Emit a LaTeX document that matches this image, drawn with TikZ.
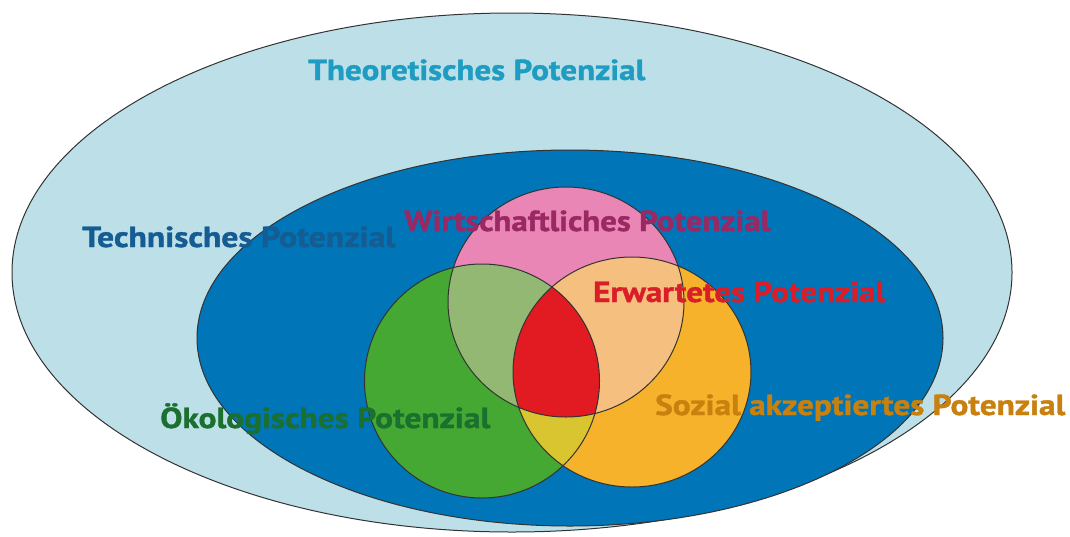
\documentclass[tikz,border=0pt]{standalone}
\usepackage{fontspec}
\usepackage{graphicx}
\setmainfont{PT Sans}[BoldFeatures={FakeBold=1.2}]
\definecolor{lightblue}{HTML}{BDE0E8}
\definecolor{techblue}{HTML}{0075B8}
\definecolor{pinkc}{HTML}{E986B5}
\definecolor{greenc}{HTML}{45A832}
\definecolor{orangec}{HTML}{F6B22B}
\definecolor{lgreen}{HTML}{93B874}
\definecolor{lorange}{HTML}{F5BF7F}
\definecolor{redc}{HTML}{E21B23}
\definecolor{yellowc}{HTML}{D9C530}
\definecolor{tTheo}{HTML}{1E9CC2}
\definecolor{tTech}{HTML}{155C92}
\definecolor{tWirt}{HTML}{9A2862}
\definecolor{tErw}{HTML}{D91E2A}
\definecolor{tOeko}{HTML}{1B7030}
\definecolor{tSoz}{HTML}{C8800E}
\newcommand{\fitlab}[2]{\resizebox{#1pt}{\height}{#2}}
\tikzset{
  outline/.style={draw=black!80, line width=1pt},
  lab/.style={font=\bfseries\fontsize{29}{29}\selectfont, inner sep=0pt, anchor=base west},
}
\begin{document}
\begin{tikzpicture}[x=1pt,y=-1pt]
\useasboundingbox (0,0) rectangle (1070,536);
% outer and inner ellipses
\draw[outline, fill=lightblue] (512,272.5) ellipse [x radius=500pt, y radius=259.5pt];
\draw[outline, fill=techblue] (570,338) ellipse [x radius=373pt, y radius=188pt];
% circles
\def\pinkc{(566,302) ellipse [x radius=118pt, y radius=115pt]}
\def\greenc{(482,381) ellipse [x radius=117.5pt, y radius=117pt]}
\def\orangec{(632,372) ellipse [x radius=119pt, y radius=115pt]}
\fill[pinkc] \pinkc;
\fill[greenc] \greenc;
\fill[orangec] \orangec;
\begin{scope}
  \clip \pinkc;
  \fill[lgreen] \greenc;
  \fill[lorange] \orangec;
\end{scope}
\begin{scope}
  \clip \greenc;
  \fill[yellowc] \orangec;
\end{scope}
\begin{scope}
  \clip \pinkc;
  \clip \greenc;
  \fill[redc] \orangec;
\end{scope}
\draw[outline] \pinkc;
\draw[outline] \greenc;
\draw[outline] \orangec;
% labels
\node[lab, text=tTheo] (theo) at (308,80) {\fitlab{337}{Theoretisches Potenzial}};
\node[lab, text=tTech] (tech) at (82,247) {\fitlab{313}{Technisches Potenzial}};
\node[lab, text=tWirt] (wirt) at (404,231) {\fitlab{366}{Wirtschaftliches Potenzial}};
\node[lab, text=tErw] (erw) at (593,302) {\fitlab{292}{Erwartetes Potenzial}};
\node[lab, text=tOeko] (oeko) at (160,428) {\fitlab{330}{Ökologisches Potenzial}};
\node[lab, text=tSoz] (soz) at (655,415) {\fitlab{410}{Sozial akzeptiertes Potenzial}};
\end{tikzpicture}
\end{document}
